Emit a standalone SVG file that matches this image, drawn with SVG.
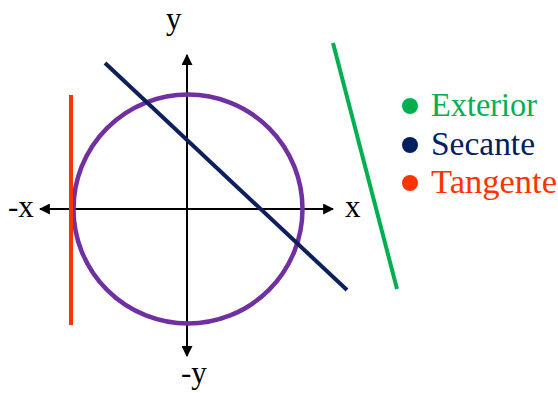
<svg xmlns="http://www.w3.org/2000/svg" width="558" height="393" viewBox="0 0 558 393">
<defs>
<style>
.lbl{font-family:"Liberation Serif","Times New Roman",serif;font-size:31px;fill:#000}
.leg{font-family:"Liberation Serif","Times New Roman",serif;font-size:33px}
.axis{stroke:#000;stroke-width:2;fill:none}
</style>
<marker id="arr" viewBox="0 0 10 10" refX="9" refY="5" markerWidth="11" markerHeight="11" markerUnits="userSpaceOnUse" orient="auto">
<path d="M0,0 L10,5 L0,10 z" fill="#000"/>
</marker>
</defs>
<rect width="558" height="393" fill="#fff"/>
<g id="connectors">
<line class="axis" x1="187" y1="209" x2="333" y2="209" marker-end="url(#arr)"/>
<line class="axis" x1="187" y1="209" x2="40" y2="209" marker-end="url(#arr)"/>
<line class="axis" x1="187" y1="209" x2="187" y2="55" marker-end="url(#arr)"/>
<line class="axis" x1="187" y1="209" x2="187" y2="356" marker-end="url(#arr)"/>
</g>
<g id="circle">
<circle cx="188" cy="209" r="114.5" fill="none" stroke="#7030A0" stroke-width="4.5"/>
</g>
<g id="tangente">
<line x1="71" y1="95" x2="71" y2="325" stroke="#FF3300" stroke-width="4"/>
</g>
<g id="secante">
<line x1="105" y1="63" x2="347" y2="290" stroke="#0D1F5C" stroke-width="4"/>
</g>
<g id="exterior">
<line x1="333" y1="43" x2="397" y2="289" stroke="#00B050" stroke-width="4"/>
</g>
<g id="labels">
<text class="lbl" x="166" y="29">y</text>
<text class="lbl" x="181" y="383">-y</text>
<text class="lbl" x="8" y="217">-x</text>
<text class="lbl" x="345" y="217">x</text>
</g>
<g id="legend">
<circle cx="410" cy="106" r="8" fill="#00B050"/>
<text class="leg" x="431" y="116" fill="#00B050" textLength="106" lengthAdjust="spacingAndGlyphs">Exterior</text>
<circle cx="410" cy="145" r="8" fill="#002060"/>
<text class="leg" x="431" y="155" fill="#002060" textLength="104" lengthAdjust="spacingAndGlyphs">Secante</text>
<circle cx="410" cy="183" r="8" fill="#FF3300"/>
<text class="leg" x="431" y="193" fill="#FF3300" textLength="126" lengthAdjust="spacingAndGlyphs">Tangente</text>
</g>
</svg>
